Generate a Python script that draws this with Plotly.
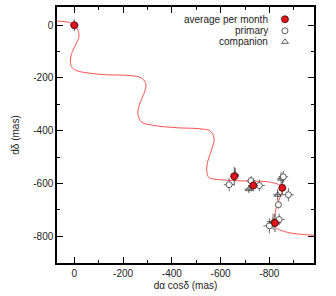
import plotly.graph_objects as go

# Model path
path_x = [80, 19, -1, -15, -19, -8, 8, 16, 12, -8, -63, -131, -229, -277, -294, -284, -267, -261,
          -277, -325, -421, -516, -557, -573, -564, -548, -543, -552, -577, -631, -700, -782, -816,
          -844, -852, -844, -833, -826, -821, -820, -830, -844, -885, -939, -980, -1000]
path_y = [16, 10, 0, -19, -44, -69, -100, -132, -157, -172, -182, -188, -191, -201, -226, -263, -301, -339,
          -368, -380, -389, -393, -401, -427, -470, -514, -552, -578, -584, -588, -591, -593, -598,
          -608, -627, -652, -677, -702, -729, -759, -770, -777, -788, -794, -796, -797]

# Average per month
avg_x = [0, -656, -734, -853, -823]
avg_y = [0, -573, -608, -617, -750]
avg_ex = [18, 18, 20, 12, 25]
avg_ey = [22, 35, 22, 28, 35]

# Primary
pri_x = [-635, -725, -759, -857, -878, -837, -840, -800]
pri_y = [-605, -590, -608, -575, -643, -681, -737, -761]
pri_ex = [22, 18, 22, 20, 22, 12, 22, 25]
pri_ey = [25, 18, 22, 22, 25, 15, 22, 28]

# Companion
com_x = [-660, -716, -848, -834, -815]
com_y = [-566, -622, -582, -643, -745]
com_ex = [15, 18, 15, 18, 25]
com_ey = [25, 15, 25, 22, 30]

xticks = [0, -200, -400, -600, -800]
yticks = [0, -200, -400, -600, -800]

font = dict(family="Liberation Sans, Arial, sans-serif", size=10, color="#222")
ecol = "#444"

fig = go.Figure()
fig.add_trace(go.Scatter(x=path_x, y=path_y, mode="lines", line=dict(color="#ff5050", width=1, shape="spline", smoothing=1.0),
                         hoverinfo="skip", showlegend=False))
fig.add_trace(go.Scatter(x=com_x, y=com_y, mode="markers",
                         marker=dict(symbol="triangle-up-open", size=6, color="#333", line=dict(width=0.8)),
                         error_x=dict(type="data", array=com_ex, color=ecol, thickness=0.8, width=0),
                         error_y=dict(type="data", array=com_ey, color=ecol, thickness=0.8, width=0),
                         showlegend=False))
fig.add_trace(go.Scatter(x=pri_x, y=pri_y, mode="markers",
                         marker=dict(symbol="circle", size=6, color="white", line=dict(color="#333", width=0.8)),
                         error_x=dict(type="data", array=pri_ex, color=ecol, thickness=0.8, width=0),
                         error_y=dict(type="data", array=pri_ey, color=ecol, thickness=0.8, width=0),
                         showlegend=False))
fig.add_trace(go.Scatter(x=avg_x, y=avg_y, mode="markers",
                         marker=dict(symbol="circle", size=7, color="#e0141c", line=dict(color="#400", width=0.8)),
                         error_x=dict(type="data", array=avg_ex, color=ecol, thickness=0.9, width=0),
                         error_y=dict(type="data", array=avg_ey, color=ecol, thickness=0.9, width=0),
                         showlegend=False))

# Manual legend (symbols right of text)
leg_labels = ["average per month", "primary", "companion"]
leg_y = [0.952, 0.907, 0.864]
leg_sym = ["circle", "circle-open", "triangle-up-open"]
leg_col = ["#e0141c", "#333", "#333"]
for lab, yy, sym, col in zip(leg_labels, leg_y, leg_sym, leg_col):
    fig.add_trace(go.Scatter(x=[0.887], y=[yy], xaxis="x2", yaxis="y2", mode="markers",
                             marker=dict(symbol=sym, size=6 if sym != "circle" else 7, color=col,
                                         line=dict(color="#400" if sym == "circle" else "#333", width=0.8)),
                             showlegend=False, hoverinfo="skip"))
    fig.add_annotation(x=0.83, y=yy, xref="paper", yref="paper", text=lab, showarrow=False,
                       xanchor="right", yanchor="middle", font=font)

axis_common = dict(showline=True, linecolor="black", linewidth=1.5, mirror="ticks", ticks="inside",
                   ticklen=6, tickwidth=1.2, tickcolor="black", showgrid=False, zeroline=False,
                   tickfont=font,
                   minor=dict(ticks="inside", ticklen=3, tickwidth=1, tickcolor="black", dtick=100, showgrid=False))

fig.update_layout(
    width=336, height=296, margin=dict(l=57, r=22, t=5, b=33),
    paper_bgcolor="white", plot_bgcolor="white", font=font, showlegend=False,
    xaxis=dict(range=[71, -983], tickvals=xticks, ticktext=[str(v) for v in xticks],
               title=dict(text="dα cosδ (mas)", font=font, standoff=4), **axis_common),
    yaxis=dict(range=[-902, 69], tickvals=yticks, ticktext=[str(v) for v in yticks],
               title=dict(text="dδ (mas)", font=font, standoff=12), **axis_common),
    xaxis2=dict(overlaying="x", range=[0, 1], visible=False),
    yaxis2=dict(overlaying="y", range=[0, 1], visible=False),
)

fig.write_html("out.html", config={"displayModeBar": False},
               post_script="document.body.style.margin='0';")
